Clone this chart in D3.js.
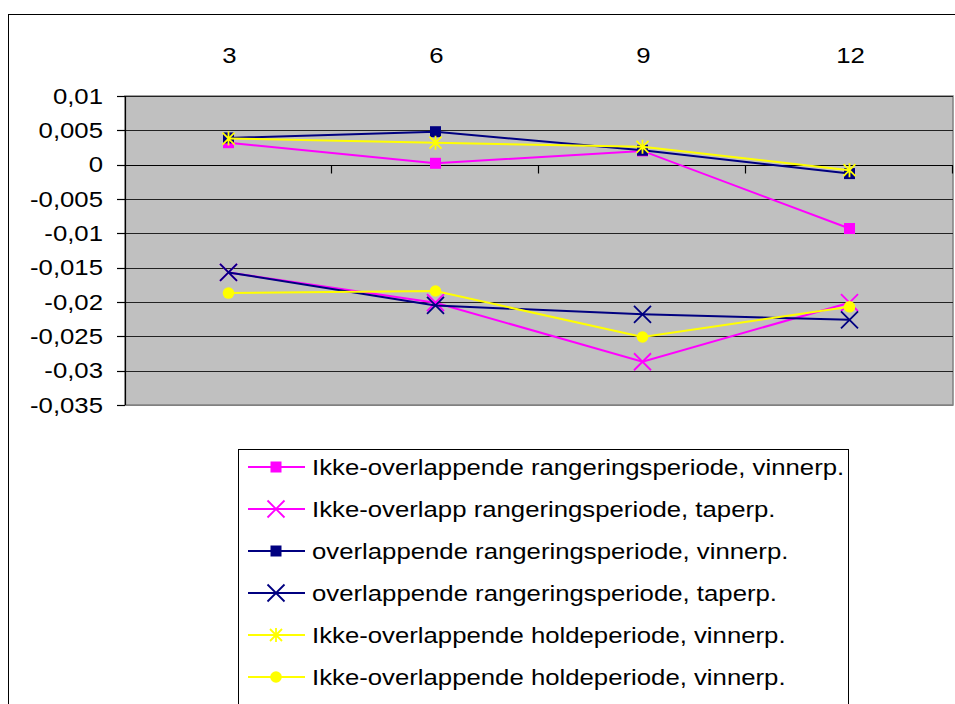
<!DOCTYPE html>
<html>
<head>
<meta charset="utf-8">
<script src="https://cdn.jsdelivr.net/npm/d3@7"></script>
<style>
  html, body { margin: 0; padding: 0; background: #fff; }
  svg { display: block; }
  text { font-family: "Liberation Sans", Arial, sans-serif; fill: #000; }
</style>
</head>
<body>
<svg id="chart" width="955" height="704"></svg>
<script>
// ---- data ----
const categories = ["3", "6", "9", "12"];
const yTickValues = [0.01, 0.005, 0, -0.005, -0.01, -0.015, -0.02, -0.025, -0.03, -0.035];
const seriesNames = [
  "Ikke-overlappende rangeringsperiode, vinnerp.",
  "Ikke-overlapp rangeringsperiode, taperp.",
  "overlappende rangeringsperiode, vinnerp.",
  "overlappende rangeringsperiode, taperp.",
  "Ikke-overlappende holdeperiode, vinnerp.",
  "Ikke-overlappende holdeperiode, vinnerp."
];
const ikkeRangVinner = [0.0032, 0.0002, 0.0020, -0.0093];
const ikkeRangTaper  = [-0.0157, -0.0201, -0.0287, -0.0201];
const overRangVinner = [0.0039, 0.0048, 0.0021, -0.0013];
const overRangTaper  = [-0.0157, -0.0205, -0.0218, -0.0226];
const ikkeHoldVinner = [0.0038, 0.0032, 0.0026, -0.0008];
const ikkeHoldVinner2 = [-0.0187, -0.0184, -0.0251, -0.0207];

const seriesValues = [ikkeRangVinner, ikkeRangTaper, overRangVinner, overRangTaper, ikkeHoldVinner, ikkeHoldVinner2];
const seriesColors = ["#FF00FF", "#FF00FF", "#000080", "#000080", "#FFFF00", "#FFFF00"];
const seriesMarkers = ["square", "x", "square", "x", "star", "circle"];

// ---- setup ----
const svg = d3.select("#chart");
const STRETCH = 1.17;
const FS = 22;

const plot = { left: 125, right: 953, top: 96, bottom: 405 };
const x = d3.scaleBand().domain(categories).range([plot.left, plot.right]);
const y = d3.scaleLinear().domain([-0.035, 0.01]).range([plot.bottom, plot.top]);
const locale = d3.formatLocale({ decimal: ",", thousands: ".", grouping: [3], currency: ["", ""], minus: "-" });
const fmt = locale.format("~g");

function stext(g, px, py, str, anchor) {
  return g.append("text")
    .attr("transform", `translate(${px},${py}) scale(${STRETCH},1)`)
    .attr("text-anchor", anchor)
    .attr("dominant-baseline", "central")
    .style("font-size", FS + "px")
    .text(str);
}

// outer chart border
svg.append("rect")
  .attr("x", 8.5).attr("y", 14.5)
  .attr("width", 1000).attr("height", 1000)
  .attr("fill", "#fff").attr("stroke", "#000").attr("stroke-width", 1);

// plot area background
svg.append("rect")
  .attr("x", plot.left).attr("y", plot.top)
  .attr("width", plot.right - plot.left).attr("height", plot.bottom - plot.top)
  .attr("fill", "#C0C0C0").attr("stroke", "#808080").attr("stroke-width", 1.5);

// gridlines
svg.append("g").selectAll("line").data(yTickValues).join("line")
  .attr("x1", plot.left).attr("x2", plot.right)
  .attr("y1", d => Math.round(y(d)) + 0.5).attr("y2", d => Math.round(y(d)) + 0.5)
  .attr("stroke", d => (d === -0.035 ? "#808080" : "#222")).attr("stroke-width", 1.2);

// y axis
const yAxisG = svg.append("g");
yAxisG.append("line")
  .attr("x1", plot.left + 0.5).attr("x2", plot.left + 0.5)
  .attr("y1", plot.top).attr("y2", plot.bottom)
  .attr("stroke", "#000").attr("stroke-width", 1.2);
yAxisG.selectAll("line.tk").data(yTickValues).join("line").attr("class", "tk")
  .attr("x1", plot.left - 8).attr("x2", plot.left)
  .attr("y1", d => Math.round(y(d)) + 0.5).attr("y2", d => Math.round(y(d)) + 0.5)
  .attr("stroke", "#000").attr("stroke-width", 1.2);
yTickValues.forEach(v => stext(yAxisG, 103, y(v), fmt(v), "end"));

// x axis (at 0)
const xAxisG = svg.append("g");
const y0 = Math.round(y(0)) + 0.5;
xAxisG.append("line")
  .attr("x1", plot.left).attr("x2", plot.right)
  .attr("y1", y0).attr("y2", y0)
  .attr("stroke", "#000").attr("stroke-width", 1.2);
const boundaries = categories.map(c => x(c) + x.bandwidth());
xAxisG.selectAll("line.tk").data(boundaries).join("line").attr("class", "tk")
  .attr("x1", d => Math.round(d) - 0.5).attr("x2", d => Math.round(d) - 0.5)
  .attr("y1", y0).attr("y2", y0 + 8)
  .attr("stroke", "#000").attr("stroke-width", 1.2);
categories.forEach(c => stext(xAxisG, x(c) + x.bandwidth() / 2 + 1, 55, c, "middle"));

// markers
function drawMarker(g, type, cx, cy, color, scale) {
  const s = scale || 1;
  if (type === "square") {
    const h = 5.5 * s;
    g.append("rect").attr("x", cx - h).attr("y", cy - h).attr("width", 2 * h).attr("height", 2 * h)
      .attr("fill", color);
  } else if (type === "x") {
    const h = 8.5 * s;
    g.append("path").attr("d", `M${cx - h},${cy - h}L${cx + h},${cy + h}M${cx - h},${cy + h}L${cx + h},${cy - h}`)
      .attr("stroke", color).attr("stroke-width", 1.8).attr("fill", "none");
  } else if (type === "star") {
    const h = 6 * s;
    g.append("path").attr("d",
      `M${cx - h},${cy - h}L${cx + h},${cy + h}M${cx - h},${cy + h}L${cx + h},${cy - h}M${cx},${cy - h - 1}L${cx},${cy + h + 1}`)
      .attr("stroke", color).attr("stroke-width", 1.8).attr("fill", "none");
  } else if (type === "circle") {
    g.append("circle").attr("cx", cx).attr("cy", cy).attr("r", 5.8 * s).attr("fill", color);
  }
}

const cx = c => x(c) + x.bandwidth() / 2;
const line = d3.line().x((d, i) => cx(categories[i])).y(d => y(d));

const seriesG = svg.append("g");
seriesValues.forEach((vals, si) => {
  const g = seriesG.append("g");
  g.append("path").attr("d", line(vals))
    .attr("fill", "none").attr("stroke", seriesColors[si]).attr("stroke-width", 2);
  vals.forEach((v, i) => drawMarker(g, seriesMarkers[si], cx(categories[i]), y(v), seriesColors[si], 1));
});

// legend
const legG = svg.append("g");
legG.append("rect")
  .attr("x", 238.5).attr("y", 449.5).attr("width", 610).attr("height", 400)
  .attr("fill", "#fff").attr("stroke", "#000").attr("stroke-width", 1);
seriesNames.forEach((name, i) => {
  const ly = 467 + i * 42;
  legG.append("line").attr("x1", 248).attr("x2", 305).attr("y1", ly).attr("y2", ly)
    .attr("stroke", seriesColors[i]).attr("stroke-width", 2);
  drawMarker(legG, seriesMarkers[i], 276, ly, seriesColors[i], 1);
  stext(legG, 312, ly, name, "start");
});
</script>
</body>
</html>
